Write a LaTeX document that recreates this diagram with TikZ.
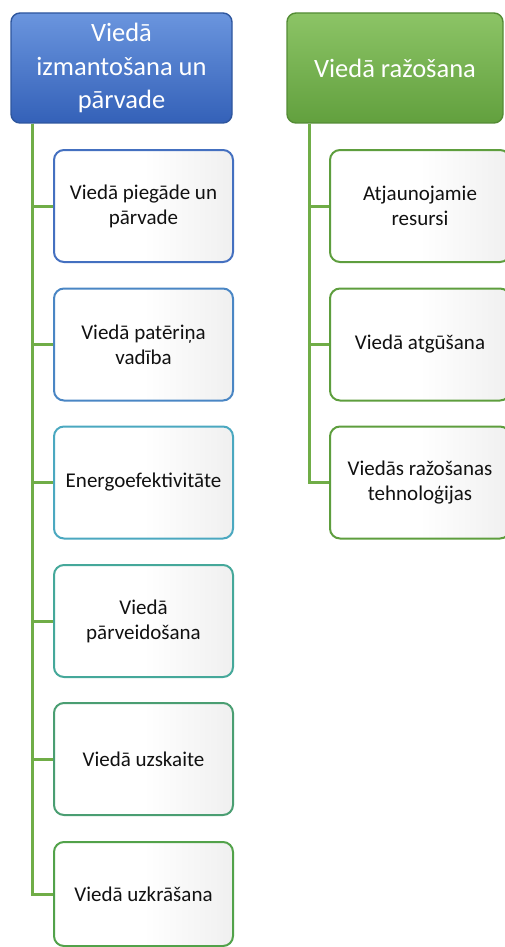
\documentclass[tikz,border=0pt]{standalone}
\usepackage{fontspec}
\setmainfont{Carlito}
\usetikzlibrary{calc}
\definecolor{conncol}{HTML}{70AD47}
\definecolor{hbluetop}{HTML}{6A95DE}
\definecolor{hbluebot}{HTML}{3461B8}
\definecolor{hblueedge}{HTML}{2E569E}
\definecolor{hgreentop}{HTML}{8CC466}
\definecolor{hgreenbot}{HTML}{62A03E}
\definecolor{hgreenedge}{HTML}{548C35}
\definecolor{bA}{HTML}{4470C0}
\definecolor{bB}{HTML}{4A86C4}
\definecolor{bC}{HTML}{4BA8C0}
\definecolor{bD}{HTML}{45A89A}
\definecolor{bE}{HTML}{4A9E72}
\definecolor{bF}{HTML}{52A24A}
\definecolor{bG}{HTML}{5E9E3E}
\definecolor{txt}{HTML}{111111}
\tikzset{
  hdr/.style={rounded corners=9pt, line width=1.4pt, minimum height=110pt,
    inner sep=0pt, text=white, align=center,
    font=\fontsize{26.5}{33.5}\selectfont},
  hblue/.style={hdr, draw=hblueedge, top color=hbluetop, bottom color=hbluebot},
  hgreen/.style={hdr, draw=hgreenedge, top color=hgreentop, bottom color=hgreenbot},
  childbox/.style={rounded corners=10pt, line width=2pt, minimum width=179pt,
    minimum height=112pt, inner sep=0pt, align=center, text=txt,
    left color=white, right color=black!6, middle color=white,
    font=\fontsize{21}{25}\selectfont},
  conn/.style={draw=conncol, line width=3pt}
}
\begin{document}
\begin{tikzpicture}[x=1pt,y=-1pt]
\useasboundingbox (0,0) rectangle (504,947);
% headers
\node[hblue, minimum width=221pt] (h1) at (121.5,68) {Viedā\\izmantošana un\\pārvade};
\node[hgreen, minimum width=216pt] (h2) at (395,68) {Viedā ražošana};
% left children
\node[childbox, draw=bA] (c1) at (143.5,206) {Viedā piegāde un\\pārvade};
\node[childbox, draw=bB] (c2) at (143.5,344.5) {Viedā patēriņa\\vadība};
\node[childbox, draw=bC] (c3) at (143.5,482.5) {Energoefektivitāte};
\node[childbox, draw=bD] (c4) at (143.5,621) {Viedā\\pārveidošana};
\node[childbox, draw=bE] (c5) at (143.5,759) {Viedā uzskaite};
\node[childbox, draw=bF, minimum height=104pt] (c6) at (143.5,894) {Viedā uzkrāšana};
% right children
\node[childbox, draw=bG, minimum width=180pt] (d1) at (420,206) {Atjaunojamie\\resursi};
\node[childbox, draw=bG, minimum width=180pt] (d2) at (420,344.5) {Viedā atgūšana};
\node[childbox, draw=bG, minimum width=180pt] (d3) at (420,482.5) {Viedās ražošanas\\tehnoloģijas};
% connectors
\coordinate (t1) at ([xshift=22pt]h1.south west);
\coordinate (t2) at ([xshift=23pt]h2.south west);
\foreach \c in {c1,c2,c3,c4,c5,c6} \draw[conn] (t1) |- (\c.west);
\foreach \d in {d1,d2,d3} \draw[conn] (t2) |- (\d.west);
\end{tikzpicture}
\end{document}
